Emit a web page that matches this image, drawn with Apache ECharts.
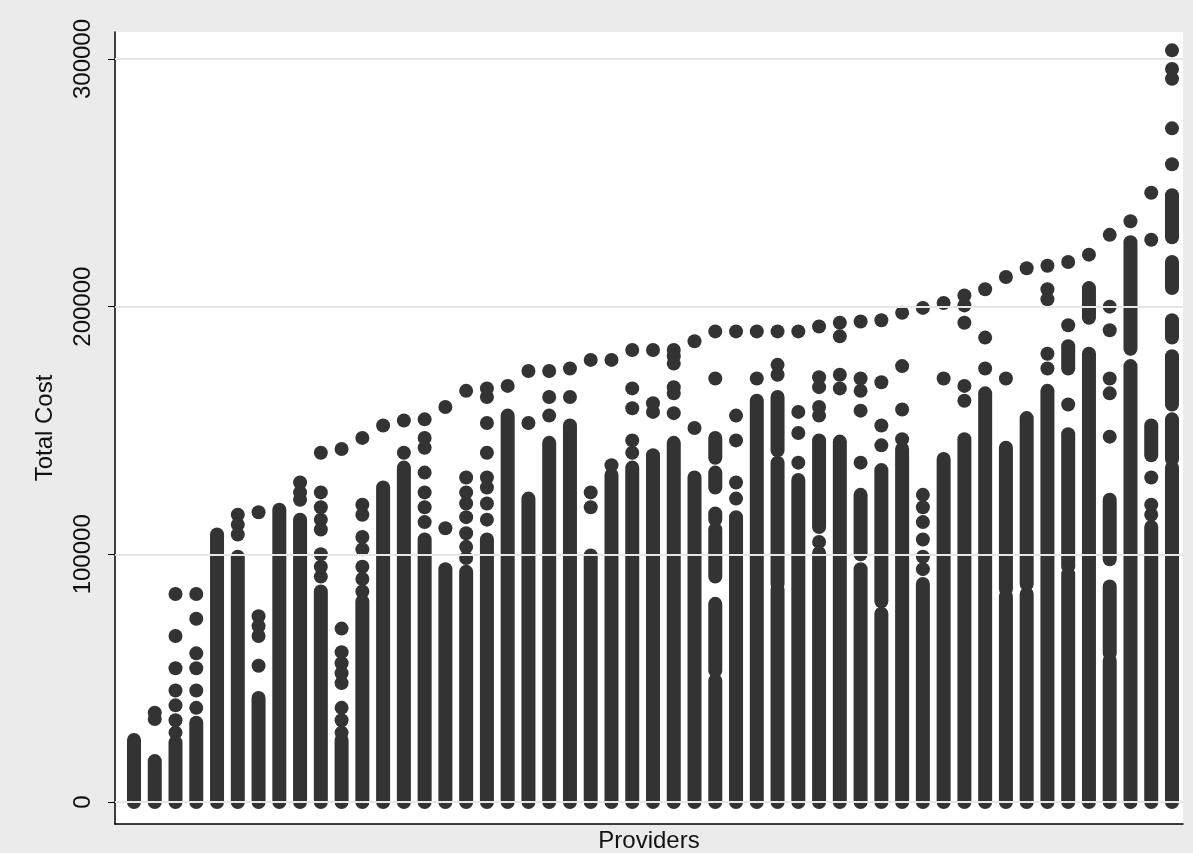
<!DOCTYPE html>
<html>
<head>
<meta charset="utf-8">
<script src="https://cdn.jsdelivr.net/npm/echarts@6/dist/echarts.min.js"></script>
<style>
html, body { margin: 0; padding: 0; background: #ebebeb; }
#app { width: 1193px; height: 853px; }
</style>
</head>
<body>
<div id="app"></div>
<script>
// solid runs of overlapping markers, per provider: [provider, low, high]
var segments = [
    [1, 0, 25000], [2, 0, 16500], [3, 0, 24000], [4, 0, 32000], [5, 0, 108000],
    [6, 0, 99000], [7, 0, 42000], [8, 0, 118000], [9, 0, 114000], [10, 0, 85000],
    [11, 0, 25000], [12, 0, 81000], [13, 0, 127000], [14, 0, 135000], [15, 0, 106000],
    [16, 0, 94000], [17, 0, 93000], [18, 0, 106000], [19, 0, 156000], [20, 0, 122500],
    [21, 0, 145000], [22, 0, 152000], [23, 0, 99500], [24, 0, 132000], [25, 0, 135000],
    [26, 0, 140000], [27, 0, 145000], [28, 0, 131000],
    [29, 0, 49000], [29, 53000, 80000], [29, 91000, 110000], [29, 114000, 116500], [29, 127000, 133000], [29, 139000, 147000],
    [30, 0, 115000], [31, 0, 162000],
    [32, 0, 85500], [32, 88000, 137000], [32, 142000, 163500],
    [33, 0, 130000],
    [34, 0, 100500], [34, 111000, 146000],
    [35, 0, 145500],
    [36, 0, 94000], [36, 100000, 124000],
    [37, 0, 76000], [37, 81000, 134000],
    [38, 0, 142500], [39, 0, 88000], [40, 0, 138500], [41, 0, 146500], [42, 0, 165000],
    [43, 0, 83000], [43, 86000, 143000],
    [44, 0, 84000], [44, 88000, 155000],
    [45, 0, 166000],
    [46, 0, 92000], [46, 95000, 148500], [46, 175000, 184000],
    [47, 0, 181000], [47, 195500, 207500],
    [48, 0, 57000], [48, 60000, 87000], [48, 98000, 122000],
    [49, 0, 176000], [49, 183000, 226000],
    [50, 0, 111000], [50, 140000, 152000],
    [51, 0, 135000], [51, 138500, 154500], [51, 160500, 180000], [51, 187500, 194500], [51, 207500, 218000], [51, 228000, 245000]
];

// single markers standing apart: [provider, cost]
var dots = [
    [2, 36000], [2, 33500],
    [3, 84000], [3, 67000], [3, 54000], [3, 45000], [3, 39000], [3, 33000], [3, 28000],
    [4, 84000], [4, 74000], [4, 60000], [4, 54000], [4, 45000], [4, 38000],
    [6, 116000], [6, 112000], [6, 108000],
    [7, 117000], [7, 75000], [7, 71000], [7, 67000], [7, 55000],
    [9, 129000], [9, 125000], [9, 122000],
    [10, 141000], [10, 125000], [10, 119000], [10, 114000], [10, 110000], [10, 100000], [10, 95000], [10, 91000],
    [11, 142500], [11, 70000], [11, 60500], [11, 56000], [11, 52000], [11, 48000], [11, 38000], [11, 33000], [11, 28000],
    [12, 147000], [12, 120000], [12, 116000], [12, 107000], [12, 102000], [12, 95000], [12, 90000], [12, 85000],
    [13, 152000], [14, 154000], [14, 141000],
    [15, 154500], [15, 147000], [15, 143000], [15, 133000], [15, 125000], [15, 119000], [15, 113000],
    [16, 159500], [16, 110500],
    [17, 166000], [17, 131000], [17, 125000], [17, 120500], [17, 115000], [17, 108500], [17, 103000], [17, 98500],
    [18, 167000], [18, 163500], [18, 153000], [18, 141000], [18, 131000], [18, 127000], [18, 120500], [18, 114000],
    [19, 168000], [20, 174000], [20, 153000],
    [21, 174000], [21, 163500], [21, 156000],
    [22, 175000], [22, 163500],
    [23, 178500], [23, 125000], [23, 119000],
    [24, 178500], [24, 136000],
    [25, 182500], [25, 167000], [25, 159000], [25, 146000], [25, 141000],
    [26, 182500], [26, 161000], [26, 157500],
    [27, 182500], [27, 180000], [27, 177000], [27, 167500], [27, 165000], [27, 157000],
    [28, 186000], [28, 151000],
    [29, 190000], [29, 171000],
    [30, 190000], [30, 156000], [30, 146000], [30, 129000], [30, 122500],
    [31, 190000], [31, 171000],
    [32, 190000], [32, 176500], [32, 172500],
    [33, 190000], [33, 157500], [33, 149000], [33, 137000],
    [34, 192000], [34, 171500], [34, 167500], [34, 159500], [34, 156000], [34, 105000],
    [35, 193500], [35, 188000], [35, 172500], [35, 167000],
    [36, 194000], [36, 171000], [36, 166000], [36, 158000], [36, 137000],
    [37, 194500], [37, 169500], [37, 152000], [37, 144000],
    [38, 197500], [38, 176000], [38, 158500], [38, 146500],
    [39, 199500], [39, 124000], [39, 119000], [39, 113000], [39, 106000], [39, 99000], [39, 94000],
    [40, 201500], [40, 171000],
    [41, 204500], [41, 200500], [41, 193500], [41, 168000], [41, 162000],
    [42, 207000], [42, 187500], [42, 175000],
    [43, 212000], [43, 171000],
    [44, 215500],
    [45, 216500], [45, 207000], [45, 203000], [45, 181000], [45, 175000],
    [46, 218000], [46, 192500], [46, 160500],
    [47, 221000],
    [48, 229000], [48, 200000], [48, 190500], [48, 171000], [48, 165000], [48, 147500],
    [49, 234500],
    [50, 246000], [50, 227000], [50, 131000], [50, 120000], [50, 116000],
    [51, 303500], [51, 296000], [51, 292000], [51, 272000], [51, 257500]
];

var yTicks = [0, 100000, 200000, 300000];

var ink = '#333333';
var markerSize = 14;

function renderRun(params, api) {
    var low = api.coord([api.value(0), api.value(1)]);
    var high = api.coord([api.value(0), api.value(2)]);
    var r = markerSize / 2;
    return {
        type: 'rect',
        shape: {
            x: low[0] - r,
            y: high[1] - r,
            width: markerSize,
            height: low[1] - high[1] + markerSize,
            r: r
        },
        style: { fill: ink }
    };
}

var option = {
    backgroundColor: '#ebebeb',
    textStyle: { fontFamily: 'Liberation Sans, Arial, sans-serif' },
    grid: {
        left: 115, right: 10, top: 32, bottom: 29,
        outerBoundsMode: 'none', containLabel: false,
        show: true, backgroundColor: '#ffffff', borderWidth: 0
    },
    xAxis: {
        type: 'value',
        min: 0.085,
        max: 51.53,
        name: 'Providers',
        nameLocation: 'middle',
        nameGap: 4,
        nameTextStyle: { fontSize: 24, color: '#111', verticalAlign: 'top', lineHeight: 26 },
        axisLine: { show: true, onZero: false, lineStyle: { color: '#000', width: 1.5 } },
        axisTick: { show: false },
        axisLabel: { show: false },
        splitLine: { show: false }
    },
    yAxis: {
        type: 'value',
        min: -8900,
        max: 310900,
        name: 'Total Cost',
        nameLocation: 'middle',
        nameGap: 58,
        nameRotate: 90,
        nameTextStyle: { fontSize: 24, color: '#111' },
        axisLine: { show: true, lineStyle: { color: '#000', width: 1.5 } },
        axisTick: { show: true, length: 7, customValues: yTicks, lineStyle: { color: '#000' } },
        axisLabel: {
            rotate: 90, fontSize: 24, color: '#111', margin: 20, customValues: yTicks,
            formatter: function (v) { return String(v); }
        },
        splitLine: { show: false }
    },
    series: [{
        type: 'custom',
        renderItem: renderRun,
        encode: { x: 0, y: [1, 2] },
        data: segments,
        silent: true,
        markLine: {
            silent: true,
            symbol: 'none',
            label: { show: false },
            lineStyle: { color: '#e6e6e6', width: 2, type: 'solid' },
            data: yTicks.map(function (v) { return { yAxis: v }; })
        },
        z: 3
    }, {
        type: 'scatter',
        data: dots,
        symbolSize: markerSize,
        itemStyle: { color: ink, opacity: 1 },
        silent: true,
        z: 3
    }]
};

var myChart = echarts.init(document.getElementById('app'));
myChart.setOption(option);
</script>
</body>
</html>
